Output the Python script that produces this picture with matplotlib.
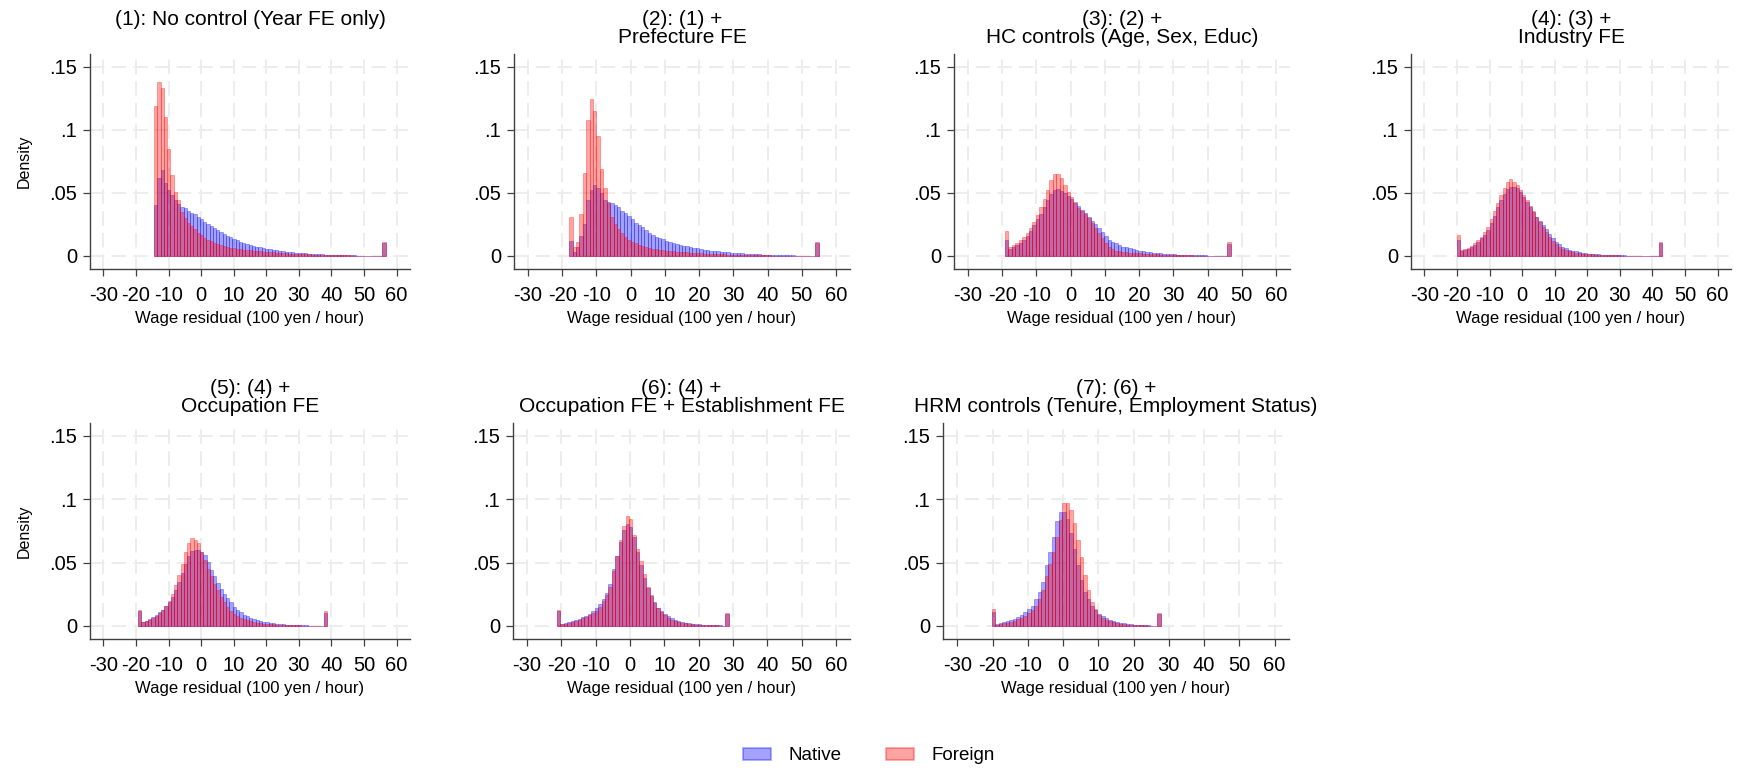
import numpy as np
import matplotlib
matplotlib.use("Agg")
import matplotlib.pyplot as plt
from matplotlib.patches import Patch

plt.rcParams['font.family'] = ['Liberation Sans', 'DejaVu Sans']
plt.rcParams['axes.unicode_minus'] = False

# panel titles
titles = [
    "(1): No control (Year FE only)",
    "(2): (1) +\nPrefecture FE",
    "(3): (2) +\nHC controls (Age, Sex, Educ)",
    "(4): (3) +\nIndustry FE",
    "(5): (4) +\nOccupation FE",
    "(6): (4) +\nOccupation FE + Establishment FE",
    "(7): (6) +\nHRM controls (Tenure, Employment Status)",
]

# left edge of the first bin (bin width = 1, i.e. 100 yen)
first_bin = [-14.4, -18.0, -19.2, -20.0, -19.3, -21.3, -20.26]

# densities x 1000, one value per bin
native_1 = [40, 62, 68, 58, 52, 48, 44, 41, 39, 38, 36, 34, 33,
            31, 29, 27, 25, 23.5, 22, 20.5, 19, 17.5, 16, 14.7, 13.5,
            12.4, 11.4, 10.5, 9.7, 8.9, 8.2, 7.5, 6.9, 6.3, 5.8,
            5.3, 4.9, 4.5, 4.1, 3.7, 3.4, 3.1, 2.8, 2.6, 2.4,
            2.2, 2.0, 1.8, 1.65, 1.5, 1.35, 1.2, 1.1, 1.0, 0.9,
            0.8, 0.72, 0.65, 0.58, 0.52, 0.46, 0.41, 0.37, 0.33, 0.3,
            0.27, 0.24, 0.22, 0.2, 0.18, 10]
foreign_1 = [119, 138, 133, 110, 85, 64, 51,
             44, 35, 30, 26.5, 23.5, 21, 18.5, 16.5, 14.5, 13, 11.5, 10.3, 9.3, 8.5, 7.8, 7.2, 6.6, 6.1,
             5.7, 5.3, 5.0, 4.7, 4.4, 4.1, 3.9, 3.7, 3.5, 3.3,
             3.1, 2.9, 2.7, 2.5, 2.3, 2.1, 1.95, 1.8, 1.65, 1.5,
             1.4, 1.3, 1.2, 1.1, 1.0, 0.92, 0.85, 0.78, 0.72, 0.66,
             0.6, 0.55, 0.5, 0.46, 0.42, 0.38, 0.35, 0.32, 0.3, 0.28,
             0.26, 0.24, 0.22, 0.2, 0.18, 11]

native_2 = [12, 3.4, 7, 16, 25, 44, 52, 56, 54, 50, 44, 43, 42, 40, 38.6,
            36, 34, 32, 29, 26, 24.6, 22.7, 20.6, 18.5, 16.6,
            15.3, 14.2, 13.1, 12.1, 11.2, 10.4, 9.6, 8.9, 8.2, 7.6, 7.0,
            6.5, 6.0, 5.5, 5.1, 4.7, 4.3, 4.0, 3.7, 3.4, 3.1,
            2.85, 2.6, 2.4, 2.2, 2.0, 1.8, 1.65, 1.5, 1.35, 1.2,
            1.1, 1.0, 0.9, 0.8, 0.72, 0.65, 0.58, 0.52, 0.46, 0.4,
            0.36, 0.32, 0.28, 0.25, 0.22, 0.2, 10]
foreign_2 = [31, 7, 11, 33, 66, 108, 124, 115, 95, 69, 54, 42, 31, 25, 21,
             18, 15, 13, 11, 10, 8.7, 8, 7, 6.3, 5.8,
             5.4, 5.0, 4.6, 4.3, 4.0, 3.7, 3.4, 3.2, 3.0, 2.8,
             2.6, 2.4, 2.2, 2.0, 1.9, 1.7, 1.6, 1.5, 1.4, 1.3,
             1.2, 1.1, 1.0, 0.9, 0.85, 0.8, 0.7, 0.65, 0.6, 0.55,
             0.5, 0.45, 0.4, 0.4, 0.35, 0.3, 0.3, 0.25, 0.25, 0.2,
             0.2, 0.2, 0.15, 0.15, 0.15, 0.1, 0.1, 11]

native_3 = [13, 5.3, 7, 8.7, 10.5, 13, 16, 20, 24.6,
            29, 33.3, 39, 44, 49, 52, 53, 51.7, 49.7, 47.5,
            45, 42, 39.5, 36.5, 34, 30.7, 28, 25.4, 22, 19.3,
            15.8, 13, 11.4, 10, 8.5, 7.4, 6.9, 6.1, 5.3, 4.8, 4.2, 3.8,
            3.4, 3.0, 2.7, 2.4, 2.1, 1.9, 1.7, 1.5, 1.3, 1.15, 1.0, 0.9,
            0.8, 0.7, 0.6, 0.5, 0.45, 0.4, 0.35, 0.3, 0.25, 0.2, 0.2, 0.2, 9.5]
foreign_3 = [20, 7, 8.5, 10.5, 12.7, 15, 18, 22, 27,
             32.5, 38.6, 45, 52, 60, 65, 65, 61.5, 56, 51,
             46.5, 43, 38, 36, 33, 30, 26, 22, 18, 14,
             10.5, 7, 5.5, 4.2, 3.7, 3.2, 3, 2.7, 2.5, 2.3, 2.1, 1.9,
             1.7, 1.5, 1.35, 1.2, 1.05, 0.95, 0.85, 0.75, 0.65, 0.6, 0.55, 0.5,
             0.45, 0.4, 0.35, 0.3, 0.28, 0.25, 0.22, 0.2, 0.18, 0.15, 0.15, 0.15, 11]

native_4 = [13, 4.2, 4.8, 5.8, 7.4, 8.7, 10.8, 14, 17, 20.6,
            26, 32, 38.5, 44.4, 49.5, 53,
            55, 54.4, 53.6, 51, 47, 43, 39, 35, 31.2, 27.7, 24.6, 21,
            17.4, 14, 11.4, 9.2, 7.4, 6.1, 5.1, 4.3, 3.6, 3.0,
            2.6, 2.2, 1.9, 1.6, 1.4, 1.2, 1.0, 0.9, 0.8, 0.7,
            0.6, 0.5, 0.45, 0.4, 0.35, 0.3, 0.25, 0.2, 0.2, 0.15, 0.15, 0.1, 0.1, 0.1, 10]
foreign_4 = [17, 4.8, 5.3, 6.3, 8, 10, 12.7, 15.3, 18.7, 23,
             29, 35.5, 42, 48.5, 54, 58.5,
             60.7, 58.9, 56.2, 52.3, 48.3, 44.4, 39.6, 36, 31, 27.2, 23.2, 19.3,
             15.3, 12, 9.5, 7.4, 5.8, 4.8, 3.9, 3.2, 2.7, 2.3,
             1.9, 1.6, 1.4, 1.2, 1.0, 0.9, 0.8, 0.7, 0.6, 0.5,
             0.45, 0.4, 0.35, 0.3, 0.3, 0.25, 0.2, 0.2, 0.2, 0.15, 0.15, 0.1, 0.1, 0.1, 11]

native_5 = [12, 3, 3.9, 5.5, 7.4, 9, 10.8, 12.7, 15.6, 18.7,
            23, 28.5, 35, 42, 49, 55, 59, 60.2,
            59.7, 58.4, 55.7, 50.4, 44.4, 39, 33.8, 29.3, 25.4, 22,
            18.5, 15.3, 12.7, 10.6, 9, 7.7, 6.5, 5.5, 4.6, 3.9,
            3.3, 2.8, 2.4, 2.0, 1.7, 1.4, 1.2, 1.0, 0.85, 0.7,
            0.6, 0.5, 0.4, 0.35, 0.3, 0.25, 0.2, 0.2, 0.15, 10]
foreign_5 = [12.5, 2.9, 3.7, 4.8, 6.3, 8.2, 10, 12.7, 16, 19.5,
             25, 32, 40, 49, 58, 65, 69.7,
             68, 65, 58.4, 51.8, 45, 39, 33.3, 28, 22.7, 18.7,
             14.8, 11.6, 9.5, 7.9, 6.6, 5.5, 4.6, 3.8, 3.2, 2.7,
             2.3, 1.9, 1.6, 1.4, 1.2, 1.0, 0.85, 0.7, 0.6, 0.5,
             0.45, 0.4, 0.35, 0.3, 0.25, 0.2, 0.2, 0.15, 0.15, 0.1, 12]

native_6 = [11.5, 1.4, 2, 2.9, 3.8, 4.8, 5.8, 7, 8.2, 9.8, 11.6, 14, 17,
            21, 26, 33, 45, 55, 66, 76, 80, 78, 70,
            58, 48, 38, 30, 23.5, 18.5, 14.5, 11.5, 9.5, 7.5,
            6, 5, 4, 3.3, 2.7, 2.2, 1.8, 1.5, 1.2, 1.0,
            0.8, 0.65, 0.5, 0.4, 0.35, 0.3, 9.5]
foreign_6 = [12.7, 1.3, 1.8, 2.6, 3.4, 4.2, 5, 6, 7.1, 8.5, 10, 12.1, 15,
             19.5, 24, 31, 43, 55, 68, 79, 87, 84, 72,
             61, 51, 41, 31, 24, 18, 14, 11, 8.5, 6.5,
             5, 4, 3.2, 2.6, 2.1, 1.7, 1.4, 1.1, 0.9, 0.75,
             0.6, 0.5, 0.4, 0.35, 0.3, 0.25, 10]

native_7 = [10.8, 1.3, 2.1, 2.9, 3.7, 4.8, 5.8, 7.1, 9, 10.8,
            13.5, 16, 21.4, 26.7, 34.6, 48, 58, 70, 83,
            90, 90, 84, 73, 61, 48, 36, 26.7, 21, 16,
            12.5, 9.8, 7.6, 6, 4.8, 3.9, 3.1, 2.5, 2.0, 1.6,
            1.3, 1.0, 0.8, 0.65, 0.5, 0.4, 0.3, 0.25, 9.5]
foreign_7 = [13.2, 1.05, 1.6, 2.1, 2.6, 3.4, 4.2, 5.3, 6.6, 8.2,
             10, 12.7, 16, 21.4, 28, 39, 49, 58, 70,
             83.4, 97, 96.6, 91.4, 80.8, 67.6, 54.4, 40, 28, 19,
             13, 9, 6.5, 4.8, 3.7, 2.9, 2.3, 1.8, 1.4, 1.1,
             0.9, 0.7, 0.55, 0.45, 0.35, 0.3, 0.25, 0.2, 10]

native = [native_1, native_2, native_3, native_4, native_5, native_6, native_7]
foreign = [foreign_1, foreign_2, foreign_3, foreign_4, foreign_5, foreign_6, foreign_7]

yticks = [0, 0.05, 0.1, 0.15]
ytick_labels = ['0', '.05', '.1', '.15']
xticks = list(range(-30, 61, 10))

W, H = 1738, 768
# plot regions in pixels: left, right, top, bottom
boxes = [(90, 410, 54, 269), (514, 850, 54, 269), (954, 1290, 54, 269), (1411, 1731, 54, 269),
         (90, 410, 423, 639), (513, 850, 423, 639), (943, 1289, 423, 639)]

c_nat = (0, 0, 1, 0.36)
c_for = (1, 0, 0, 0.36)
axis_c = '#404040'

fig = plt.figure(figsize=(W / 100, H / 100), dpi=100)

for i in range(7):
    l, r, t, b = boxes[i]
    ax = fig.add_axes([l / W, 1 - b / H, (r - l) / W, (b - t) / H])
    nat = np.array(native[i]) / 1000
    frn = np.array(foreign[i]) / 1000
    left = first_bin[i] + np.arange(len(nat))
    ax.bar(left, nat, width=1, align='edge', facecolor=c_nat, edgecolor=c_nat, linewidth=0.6)
    ax.bar(left, frn, width=1, align='edge', facecolor=c_for, edgecolor=c_for, linewidth=0.6)

    ax.set_xlim(-34.1, 64.1)
    ax.set_ylim(-0.0103, 0.160)
    ax.set_xticks(xticks)
    ax.set_yticks(yticks)
    ax.set_yticklabels(ytick_labels)
    ax.grid(True, color='#ececec', linestyle=(0, (8, 4)), linewidth=1.3)
    ax.set_axisbelow(True)
    for s in ['top', 'right']:
        ax.spines[s].set_visible(False)
    for s in ['left', 'bottom']:
        ax.spines[s].set_color(axis_c)
        ax.spines[s].set_linewidth(1.0)
    ax.tick_params(axis='x', length=5, width=0.9, color=axis_c, labelsize=14.5, pad=7.5)
    ax.tick_params(axis='y', length=5, width=0.9, color=axis_c, labelsize=14.5, pad=4.3)
    ax.set_xlabel('Wage residual (100 yen / hour)', fontsize=12, labelpad=4)

    fig.text((l + r) / 2 / W, 1 - (t - 44) / H, titles[i], ha='center', va='top',
             fontsize=15, linespacing=0.95)
    if i in (0, 4):
        fig.text(24 / W, 1 - (t + b) / 2 / H, 'Density', rotation=90,
                 ha='center', va='center', fontsize=11.5)

handles = [Patch(facecolor=c_nat, edgecolor=c_nat, linewidth=1.2),
           Patch(facecolor=c_for, edgecolor=c_for, linewidth=1.2)]
fig.legend(handles, ['Native', 'Foreign'], loc='center', bbox_to_anchor=(0.5, 1 - 756 / H),
           ncol=2, frameon=False, fontsize=13.5, handlelength=1.45, handleheight=0.65,
           handletextpad=0.95, columnspacing=2.4)

fig.savefig('out.png', dpi=100)
